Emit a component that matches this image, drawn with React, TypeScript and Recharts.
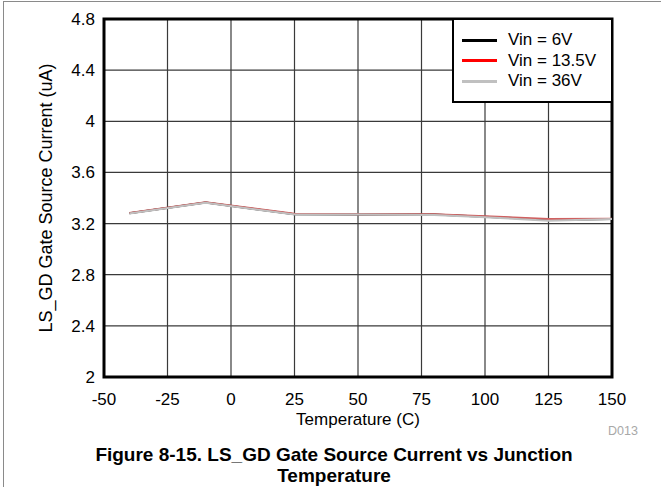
import React from "react";
import { LineChart, Line, XAxis, YAxis, CartesianGrid, ReferenceArea } from "recharts";

const temps = [-40, -10, 25, 50, 80, 100, 125, 150];
const vin6 = [3.28, 3.364, 3.273, 3.271, 3.27, 3.254, 3.228, 3.236];
const vin135 = [3.283, 3.366, 3.276, 3.273, 3.273, 3.258, 3.235, 3.238];
const vin36 = [3.279, 3.362, 3.271, 3.27, 3.267, 3.25, 3.222, 3.235];
const xTicks = [-50, -25, 0, 25, 50, 75, 100, 125, 150];
const yTicks = [2, 2.4, 2.8, 3.2, 3.6, 4, 4.4, 4.8];
const seriesNames = ["Vin = 6V", "Vin = 13.5V", "Vin = 36V"];
const seriesColors = ["#000000", "#ff0000", "#c0c0c0"];

const data = temps.map((t, i) => ({ t, a: vin6[i], b: vin135[i], c: vin36[i] }));

const FONT = "'Liberation Sans', Arial, sans-serif";

const LegendBox = () => (
  <div
    style={{
      position: "absolute",
      left: 452,
      top: 18,
      width: 161,
      height: 85,
      border: "2.5px solid #000",
      background: "#fff",
      boxSizing: "border-box",
      paddingTop: 10,
      fontFamily: FONT,
      fontSize: 17,
      color: "#000",
    }}
  >
    {seriesNames.map((n, i) => (
      <div key={n} style={{ display: "flex", alignItems: "center", height: 20.5 }}>
        <div style={{ width: 35, height: 3, background: seriesColors[i], marginLeft: 8, marginRight: 11 }} />
        <span>{n}</span>
      </div>
    ))}
  </div>
);

export default function App() {
  return (
    <div style={{ position: "absolute", left: 0, top: 0, width: 661, height: 487, background: "#fff", fontFamily: FONT }}>
      <div style={{ position: "absolute", left: 3, top: 1, width: 1, height: 486, background: "#8a8a8a" }} />
      <div style={{ position: "absolute", left: 3, top: 1, width: 658, height: 1, background: "#8a8a8a" }} />
      <LineChart
        width={661}
        height={487}
        data={data}
        margin={{ top: 19, right: 49, bottom: 60, left: 44 }}
      >
        <CartesianGrid stroke="#3a3a3a" strokeWidth={1.2} />
        <XAxis
          dataKey="t"
          type="number"
          domain={[-50, 150]}
          ticks={xTicks}
          height={50}
          tickSize={0}
          tickMargin={16}
          axisLine={false}
          tickLine={false}
          interval={0}
          tick={{ fill: "#000", fontSize: 17, fontFamily: FONT }}
        />
        <YAxis
          type="number"
          domain={[2, 4.8]}
          ticks={yTicks}
          width={60}
          tickSize={0}
          tickMargin={9}
          axisLine={false}
          tickLine={false}
          interval={0}
          tickFormatter={(v: number) => String(Number(v.toFixed(1)))}
          tick={{ fill: "#000", fontSize: 17, fontFamily: FONT }}
        />
        <Line dataKey="a" name={seriesNames[0]} stroke={seriesColors[0]} strokeWidth={2} dot={false} isAnimationActive={false} />
        <Line dataKey="b" name={seriesNames[1]} stroke="#d06060" strokeWidth={2} dot={false} isAnimationActive={false} />
        <Line dataKey="c" name={seriesNames[2]} stroke={seriesColors[2]} strokeWidth={2} dot={false} isAnimationActive={false} />
        <ReferenceArea x1={-50} x2={150} y1={2} y2={4.8} fill="none" stroke="#000" strokeWidth={3} ifOverflow="visible" />
      </LineChart>
      <LegendBox />
      <div
        style={{
          position: "absolute",
          left: 46,
          top: 198,
          transform: "translate(-50%, -50%) rotate(-90deg)",
          whiteSpace: "nowrap",
          fontSize: 18,
          color: "#000",
        }}
      >
        LS_GD Gate Source Current (uA)
      </div>
      <div style={{ position: "absolute", left: 358, top: 420, transform: "translate(-50%, -50%)", whiteSpace: "nowrap", fontSize: 17, lineHeight: "18px", color: "#000" }}>
        Temperature (C)
      </div>
      <div style={{ position: "absolute", left: 623, top: 431, transform: "translate(-50%, -50%)", whiteSpace: "nowrap", fontSize: 12.5, color: "#a8a8a8" }}>
        D013
      </div>
      <div style={{ position: "absolute", left: 334, top: 455, transform: "translate(-50%, -50%)", whiteSpace: "nowrap", fontSize: 19, fontWeight: "bold", color: "#000" }}>
        Figure 8-15. LS_GD Gate Source Current vs Junction
      </div>
      <div style={{ position: "absolute", left: 334, top: 476, transform: "translate(-50%, -50%)", whiteSpace: "nowrap", fontSize: 19, fontWeight: "bold", color: "#000" }}>
        Temperature
      </div>
    </div>
  );
}
